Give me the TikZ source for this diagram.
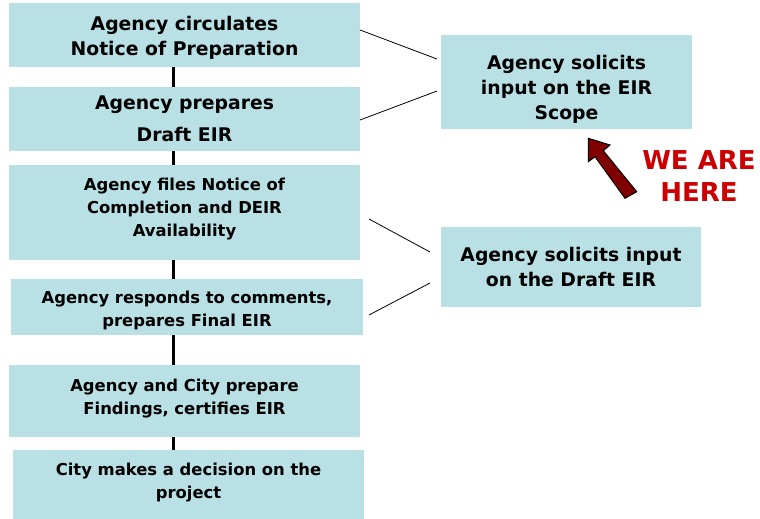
\documentclass[tikz,border=0pt]{standalone}
\usepackage{fontspec}
\setmainfont{DejaVu Sans}
\definecolor{boxblue}{RGB}{185,224,228}
\definecolor{arrowred}{RGB}{128,0,0}
\definecolor{herered}{RGB}{204,0,0}
\newcommand{\padtop}[1]{\rule{0pt}{#1}}
\newcommand{\padbot}[1]{\rule[-#1]{0pt}{0pt}}
\tikzset{
  stepbox/.style={fill=boxblue, inner sep=0pt, outer sep=0pt, align=center,
    font=\bfseries\fontsize{16.4}{23}\selectfont},
  bigbox/.style={stepbox, font=\bfseries\fontsize{18.8}{25}\selectfont},
  spine/.style={line width=3pt},
  link/.style={line width=0.8pt}
}
\begin{document}
\begin{tikzpicture}[x=1pt,y=-1pt]
  \useasboundingbox (0,0) rectangle (760,519);

  % left column
  \node[bigbox, minimum width=351pt, minimum height=64pt] (b1) at (184.5,35)
    {\padtop{20.3pt}Agency circulates\\Notice of Preparation};
  \node[bigbox, minimum width=351pt, minimum height=64pt] (b2) at (184.5,119)
    {Agency prepares\\[7pt]Draft EIR};
  \node[stepbox, minimum width=351pt, minimum height=95pt] (b3) at (184.5,212.5)
    {Agency files Notice of\\Completion and DEIR\\Availability\padbot{10pt}};
  \node[stepbox, minimum width=352pt, minimum height=56pt] (b4) at (187,307)
    {\padtop{18.5pt}Agency responds to comments,\\prepares Final EIR};
  \node[stepbox, minimum width=351pt, minimum height=72pt] (b5) at (184.5,401)
    {Agency and City prepare\\Findings, certifies EIR\padbot{8pt}};
  \node[stepbox, minimum width=351pt, minimum height=69pt] (b6) at (188.5,484.5)
    {City makes a decision on the\\project\padbot{8pt}};

  \coordinate (spine) at (173.5,0);
  \foreach \a/\b in {b1/b2,b2/b3,b3/b4,b4/b5,b5/b6}
    \draw[spine] (\a.south -| spine) -- (\b.north -| spine);

  % right column
  \node[bigbox, minimum width=251pt, minimum height=94pt] (s1) at (566.5,82)
    {\padtop{28.3pt}Agency solicits\\input on the EIR\\Scope};
  \node[bigbox, minimum width=260pt, minimum height=80pt] (s2) at (571,267)
    {Agency solicits input\\on the Draft EIR};

  \coordinate (s1in1) at (437,59);
  \coordinate (s1in2) at (437,91);
  \coordinate (s2in1) at (430,252);
  \coordinate (s2in2) at (430,283);
  \draw[link] (b1.east |- 0,30) -- (s1in1);
  \draw[link] (b2.east |- 0,120) -- (s1in2);
  \draw[link] (369,219) -- (s2in1);
  \draw[link] (369,315) -- (s2in2);

  % we are here
  \draw[fill=arrowred, line width=1pt, line join=miter]
    (588.3,138.3) -- (610,145) -- (603.3,150.7) -- (636.7,191.7)
    -- (625,198.3) -- (595,156.7) -- (588.3,161.7) -- cycle;
  \node[text=herered, align=center, font=\bfseries\fontsize{26}{32}\selectfont]
    (here) at (699,176) {WE ARE\\HERE};
\end{tikzpicture}
\end{document}
